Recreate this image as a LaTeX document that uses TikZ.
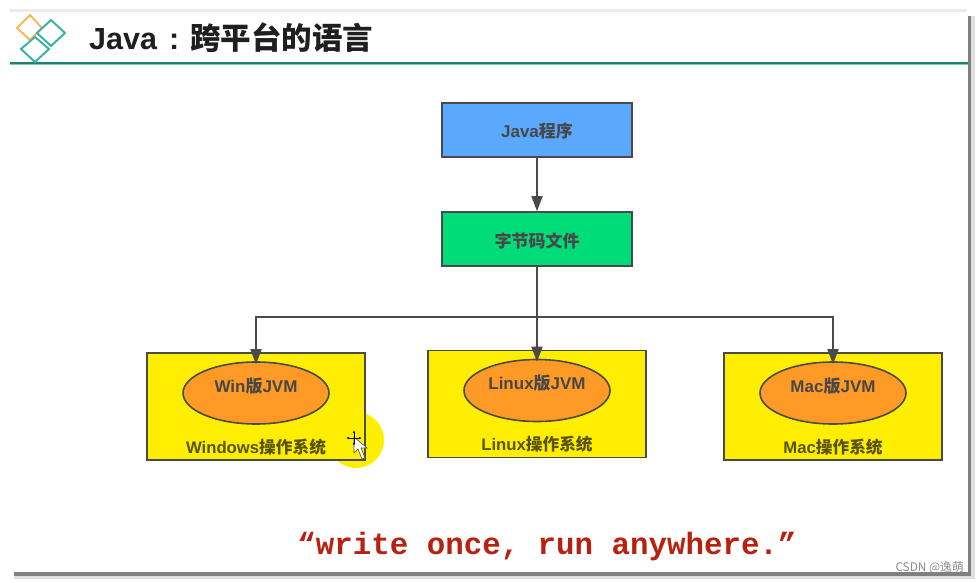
\documentclass[tikz,border=0pt]{standalone}
\usepackage{fontspec}
\setmainfont{Noto Sans CJK SC}
\newfontfamily\monof{Liberation Mono}
\newfontfamily\latf{Liberation Sans}
\newcommand{\la}[1]{{\latf #1}}
\usetikzlibrary{arrows.meta,shapes.geometric,calc}
\definecolor{edgec}{HTML}{4A4A4A}
\definecolor{teal1}{HTML}{1F7F70}
\definecolor{teal2}{HTML}{3DB3A3}
\definecolor{gold1}{HTML}{F5B85A}
\definecolor{blue1}{HTML}{5BA8FF}
\definecolor{green1}{HTML}{00DC78}
\definecolor{yell}{HTML}{FFEE00}
\definecolor{oran}{HTML}{FF9A26}
\definecolor{redt}{HTML}{B8200F}
\tikzset{
  flowbox/.style={draw=edgec,line width=1.6pt,minimum width=190pt,minimum height=54pt,inner sep=0pt},
  osbox/.style={draw=edgec,line width=1.6pt,fill=yell,minimum width=218pt,minimum height=107pt,inner sep=0pt},
  jvm/.style={ellipse,draw=edgec,line width=1.6pt,fill=oran,minimum width=146pt,minimum height=62pt,inner sep=0pt},
  lab/.style={inner sep=0pt,text=black!72,font=\bfseries\fontsize{17}{18}\selectfont},
  oslab/.style={inner sep=0pt,text=black!65!yell,font=\bfseries\fontsize{16.7}{18}\selectfont},
  conn/.style={draw=edgec,line width=1.6pt},
  arr/.style={conn,-{Triangle[length=15pt,width=11pt]}},
  diam/.style={line width=2pt,line join=miter}
}
\begin{document}
\begin{tikzpicture}[x=1pt,y=-1pt]
\useasboundingbox (0,0) rectangle (979,583);
% slide and shadow
\fill[white] (0,0) rectangle (979,583);
\fill[black!8] (10,9) rectangle (967,14);
\fill[black!12] (14,16) rectangle (975,579);
\fill[black!50] (14,16) rectangle (971,576);
\fill[white] (10,12) rectangle (968,572);
% header
\draw[teal1,line width=2.4pt] (10,63) -- (968,63);
\draw[teal2!70,line width=1pt] (10,65) -- (968,65);
\draw[diam,gold1] (30,15) -- (42,28) -- (30,40) -- (17,28) -- cycle;
\draw[diam,teal2] (51,20) -- (65,33) -- (51,46) -- (37,33) -- cycle;
\draw[diam,teal2] (35,37) -- (49,49) -- (35,62) -- (21,49) -- cycle;
\node[anchor=west,inner sep=0pt,text=black!88,font=\bfseries\fontsize{30.5}{34}\selectfont] (title) at (89,38) {\la{Java}\hspace{12pt}\la{:}\hspace{11pt}跨平台的语言};
% upper boxes
\node[flowbox,fill=blue1] (java) at (537,130) {};
\node[flowbox,fill=green1] (bc) at (537,239) {};
\node[lab] (javat) at (537,131) {\la{Java}程序};
\node[lab] (bct) at (537,241) {字节码文件};
% OS boxes
\fill[yell] (356,440) circle (28pt);
\node[osbox] (winbox) at (256,406.5) {};
\node[osbox] (linbox) at (537,404) {};
\node[osbox] (macbox) at (833,406.5) {};
\node[jvm] (win) at (256,393) {};
\node[jvm] (lin) at (537,390.5) {};
\node[jvm] (mac) at (833,393) {};
\node[lab] (wint) at (256,386) {\la{Win}版\la{JVM}};
\node[lab] (lint) at (537,383) {\la{Linux}版\la{JVM}};
\node[lab] (mact) at (833,386) {\la{Mac}版\la{JVM}};
\node[oslab] (wino) at (256,447) {\la{Windows}操作系统};
\node[oslab] (lino) at (537,444) {\la{Linux}操作系统};
\node[oslab] (maco) at (833,447) {\la{Mac}操作系统};
% connectors
\coordinate (bus) at (537,317);
\draw[arr] (java) -- (bc);
\draw[arr] (bc) -- ($(lin.north)+(0,3)$);
\draw[arr] (bus) -| ($(win.north)+(0,3)$);
\draw[arr] (bus) -| ($(mac.north)+(0,3)$);
% cursor
\fill[white,draw=black!70,line width=.6pt] (354,437) -- (354,453) -- (358,449) -- (362,459) -- (365,458) -- (361,448) -- (367,448) -- cycle;
\draw[black,line width=.8pt,{Latex[length=3pt]}-{Latex[length=3pt]}] (346,438) -- (362,438);
\draw[black,line width=.8pt,{Latex[length=3pt]}-{Latex[length=3pt]}] (354,430) -- (354,446);
% slogan
\node[inner sep=0pt,text=redt,font=\monof\bfseries\fontsize{30.8}{34}\selectfont] (slogan) at (547,547) {“write once, run anywhere.”};
\node[anchor=east,inner sep=0pt,text=black!45,font=\fontsize{11.8}{13}\selectfont] (mark) at (964,568) {CSDN @逸萌};
\end{tikzpicture}
\end{document}
